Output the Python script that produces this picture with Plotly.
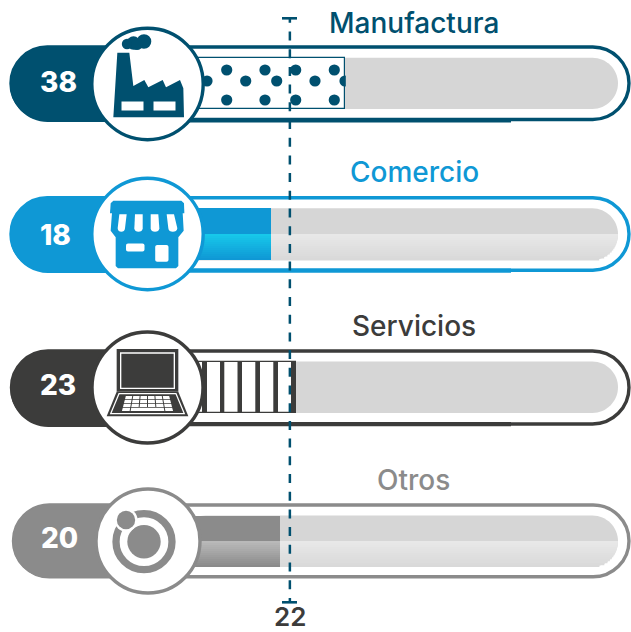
import math
import plotly.graph_objects as go

# chart values
categories = ["Manufactura", "Comercio", "Servicios", "Otros"]
values = [38, 18, 23, 20]
average = 22
# where each fill really stops on the value scale (the original is not quite linear)
fill_ends = [38, 18, 24.8, 20.5]
average_pos = 23.1

# style per row
colors = ["#00506f", "#0f98d5", "#3c3c3b", "#8b8b8b"]
title_colors = ["#00506f", "#0f98d5", "#3c3c3b", "#8b8b8b"]
grad_tops = [None, "#17c8ea", None, "#b9b9b9"]
outer_top = [47, 197.8, 351, 505]
outer_bot = [119.5, 270.2, 424, 576.8]
pill_top = [46.5, 197.3, 351.5, 505]
pill_bot = [122, 273, 427, 577.8]
inner_top = [57.7, 208.2, 361.5, 515.5]
inner_bot = [109, 260, 413, 566.7]
left_x = [10, 10, 10.5, 12.5]
circle_y = [84, 234, 387.5, 541]
circle_x = [147.5, 147.5, 147.5, 148]
circle_r = [55.7, 55.7, 55.5, 52]
title_x = [414, 414, 414, 413]
title_y = [23, 172, 326, 480]
num_x = [58, 55, 58, 59]
num_y = [82, 235, 385, 538]
thick_y = [118.3, 268.5, 422, None]

PX_PER_UNIT = 3.7
ZERO_PX = 204.4
W, H = 631, 632
TRACK_RIGHT = 618

shapes = []


def rrect(x0, y0, x1, y1, r):
    k = 0.55 * r
    return (f"M{x0+r},{y0} L{x1-r},{y0} C{x1-r+k},{y0} {x1},{y0+r-k} {x1},{y0+r} "
            f"L{x1},{y1-r} C{x1},{y1-r+k} {x1-r+k},{y1} {x1-r},{y1} "
            f"L{x0+r},{y1} C{x0+r-k},{y1} {x0},{y1-r+k} {x0},{y1-r} "
            f"L{x0},{y0+r} C{x0},{y0+r-k} {x0+r-k},{y0} {x0+r},{y0} Z")


def add_path(path, fill, layer="above", line=None, lw=0):
    shapes.append(dict(type="path", path=path, fillcolor=fill, layer=layer, xref="x", yref="y",
                       line=dict(color=line or fill, width=lw)))


def add_circle(cx, cy, r, fill, line=None, lw=0, layer="above"):
    shapes.append(dict(type="circle", x0=cx-r, x1=cx+r, y0=cy-r, y1=cy+r, fillcolor=fill, layer=layer,
                       xref="x", yref="y", line=dict(color=line or fill, width=lw)))


def add_rect(x0, y0, x1, y1, fill, layer="above"):
    shapes.append(dict(type="rect", x0=x0, x1=x1, y0=y0, y1=y1, fillcolor=fill, layer=layer,
                       xref="x", yref="y", line=dict(width=0)))


def poly(points, ox=0, oy=0):
    pts = [f"{ox+x/3:.2f},{oy+y/3:.2f}" for x, y in points]
    return "M" + " L".join(pts) + " Z"


def mix(c0, c1, t):
    a = [int(c0[i:i+2], 16) for i in (1, 3, 5)]
    b = [int(c1[i:i+2], 16) for i in (1, 3, 5)]
    return "#" + "".join(f"{round(p+(q-p)*t):02x}" for p, q in zip(a, b))


# pills and tracks
for i, col in enumerate(colors):
    t, b = outer_top[i], outer_bot[i]
    add_path(rrect(left_x[i]+1, t, 629, b, (b-t)/2), "#ffffff", "below", col, 3.4)
    add_path(rrect(left_x[i], pill_top[i], 170, pill_bot[i], (pill_bot[i]-pill_top[i])/2), col, "below")
    if thick_y[i]:
        add_rect(150, thick_y[i], 511, thick_y[i]+4.3, col, "below")
    it, ib = inner_top[i], inner_bot[i]
    r = (ib-it)/2
    add_path(rrect(180, it, TRACK_RIGHT, ib, r), "#d6d6d6", "below")
    if grad_tops[i]:
        mid = (it+ib)/2
        n = 13
        step = (ib-mid)/n
        for s in range(n):
            y0 = mid+s*step
            dy = min(r, s*step+step/2)
            xr = TRACK_RIGHT-r+math.sqrt(r*r-dy*dy)
            add_rect(180, y0, xr, y0+step+0.4, mix("#e8e8e8", "#d9d9d9", s/(n-1)), "below")

fig = go.Figure()

# fills, drawn on the value axis
for i, col in enumerate(colors):
    it, ib = inner_top[i], inner_bot[i]
    if grad_tops[i]:
        mid = (it+ib)/2
        fig.add_trace(go.Bar(x=[fill_ends[i]+3], base=-3, y=[(it+mid)/2], width=mid-it, orientation="h",
                             xaxis="x2", yaxis="y", marker=dict(color=col, line=dict(width=0))))
        n = 13
        step = (ib-mid)/n
        for s in range(n):
            fig.add_trace(go.Bar(x=[fill_ends[i]+3], base=-3, y=[mid+s*step+step/2], width=step+0.3,
                                 orientation="h", xaxis="x2", yaxis="y",
                                 marker=dict(color=mix(grad_tops[i], col, s/(n-1)), line=dict(width=0))))
    else:
        fig.add_trace(go.Bar(x=[fill_ends[i]+3], base=-3, y=[(it+ib)/2], width=ib-it, orientation="h",
                             xaxis="x2", yaxis="y", marker=dict(color="#ffffff", line=dict(color=col, width=1.2))))

# dot pattern of the first fill
dot_x = [226.7, 265, 295.7, 334.3, 207, 245.7, 276.7, 315, 345, 226.7, 265, 295.7, 334.3]
dot_y = [70, 70, 70, 70, 81, 81, 81, 81, 81, 100, 100, 100, 100]
for dx, dy in zip(dot_x, dot_y):
    add_circle(dx, dy, 5.6, colors[0])
add_rect(345.8, 58, 362, 109, "#d6d6d6")

# stripes of the third fill
for x0, x1 in [(202, 207), (220, 224.3), (237.5, 242), (255.3, 260), (273.3, 278), (291, 296)]:
    add_rect(x0, inner_top[2], x1, inner_bot[2], colors[2])

# average line
avg_dash = "4.8px,8.7px," + "9px,8.7px," * 33 + "9px,8.7px"
fig.add_trace(go.Scatter(x=[average_pos, average_pos], y=[18, 602], mode="lines", xaxis="x2", yaxis="y",
                         line=dict(color="#00506f", width=2.5, dash=avg_dash)))
add_rect(282, 17, 297, 19.6, "#00506f")
add_rect(282, 601, 297, 603.6, "#00506f")

# badges
for i, col in enumerate(colors):
    add_circle(circle_x[i], circle_y[i], circle_r[i], "#ffffff", col, 3.4)

# factory icon
c = colors[0]
add_circle(144, 41.5, 7.3, c)
add_circle(133.5, 43, 6.7, c)
add_circle(127, 44, 5.2, c)
add_circle(137, 44.5, 5.5, c)
add_path(poly([(340, 352), (352, 158), (388, 158), (400, 258), (433, 240), (445, 262), (488, 240), (498, 262),
               (540, 240), (550, 265), (552, 352)]), c)
add_rect(121.5, 101.5, 143.5, 110.5, "#ffffff")
add_rect(153.5, 101.5, 175.5, 110.5, "#ffffff")

# shop icon
c = colors[1]
add_path(poly([(340, 122), (544, 122), (552, 130), (553, 160), (330, 160), (332, 130)], 0, 160), c)
add_path(poly([(336, 158), (548, 158), (551, 212), (535, 232), (535, 318), (528, 325), (354, 325), (347, 318),
               (347, 232), (332, 212)], 0, 160), c)
for a, b, d, e in [(358, 380, 353, 375), (405, 428, 403, 428), (452, 475, 452, 478), (500, 522, 505, 532)]:
    k = 160
    add_path(f"M{a/3},{k+163/3} L{b/3},{k+163/3} L{e/3},{k+205/3} "
             f"C{e/3},{k+219/3} {d/3},{k+219/3} {d/3},{k+205/3} Z", "#ffffff")
add_path(rrect(126, 243.5, 144.5, 251.5, 2), "#ffffff")
add_path(rrect(155.2, 245, 168.5, 261.8, 2), "#ffffff")

# laptop icon
c = colors[2]
add_path(poly([(350, 87), (535, 87), (535, 215), (350, 215)], 0, 320), c)
add_path(poly([(360, 97), (525, 97), (525, 207), (360, 207)], 0, 320), "#ffffff")
add_path(poly([(364, 101), (521, 101), (521, 203), (364, 203)], 0, 320), c)
add_path(poly([(350, 215), (535, 215), (565, 289), (320, 289)], 0, 320), c)
add_path(poly([(357, 221), (528, 221), (553, 281), (332, 281)], 0, 320), "rgba(0,0,0,0)", line="#ffffff", lw=1.2)
rows = [(228, 238), (240, 250), (252, 261), (263, 273)]
for ri, (yt, yb) in enumerate(rows):
    lt = 376-(yt-228)*0.26
    rt = 509+(yt-228)*0.26
    lb = 376-(yb-228)*0.26
    rb = 509+(yb-228)*0.26
    edges = [0, 1/6, 2/6, 3/6, 4/6, 5/6, 1] if ri < 3 else [0, 1/6, 5/6, 1]
    for e0, e1 in zip(edges, edges[1:]):
        add_path(poly([(lt+(rt-lt)*e0+1.5, yt), (lt+(rt-lt)*e1-1.5, yt),
                       (lb+(rb-lb)*e1-1.5, yb), (lb+(rb-lb)*e0+1.5, yb)], 0, 320), "#ffffff")

# ring icon
c = colors[3]
add_circle(144, 541.7, 28, "#ffffff", c, 7.3)
add_circle(144, 541.7, 16.7, c)
add_circle(126, 520, 11.5, "#ffffff")
add_circle(126, 520, 9.2, c)

annotations = []
for i, name in enumerate(categories):
    annotations.append(dict(x=title_x[i], y=title_y[i], xref="x", yref="y", text=name, showarrow=False,
                            font=dict(family="Inter", size=28, color=title_colors[i], weight=500)))
    annotations.append(dict(x=num_x[i], y=num_y[i], xref="x", yref="y", text=str(values[i]), showarrow=False,
                            font=dict(family="Inter", size=28, color="#ffffff", weight=800)))
annotations.append(dict(x=290, y=616.5, xref="x", yref="y", text=str(average), showarrow=False,
                        font=dict(family="Inter", size=26, color="#3c3c3b", weight=600)))

fig.update_layout(
    width=W, height=H, margin=dict(l=0, r=0, t=0, b=0), paper_bgcolor="#ffffff", plot_bgcolor="#ffffff",
    showlegend=False, barmode="overlay", bargap=0, shapes=shapes, annotations=annotations,
    xaxis=dict(range=[0, W], visible=False, fixedrange=True),
    xaxis2=dict(range=[-ZERO_PX/PX_PER_UNIT, (W-ZERO_PX)/PX_PER_UNIT], overlaying="x", visible=False, fixedrange=True),
    yaxis=dict(range=[H, 0], visible=False, fixedrange=True),
)

fig.write_html("out.html", config=dict(displayModeBar=False),
               post_script="document.body.style.margin='0';")
